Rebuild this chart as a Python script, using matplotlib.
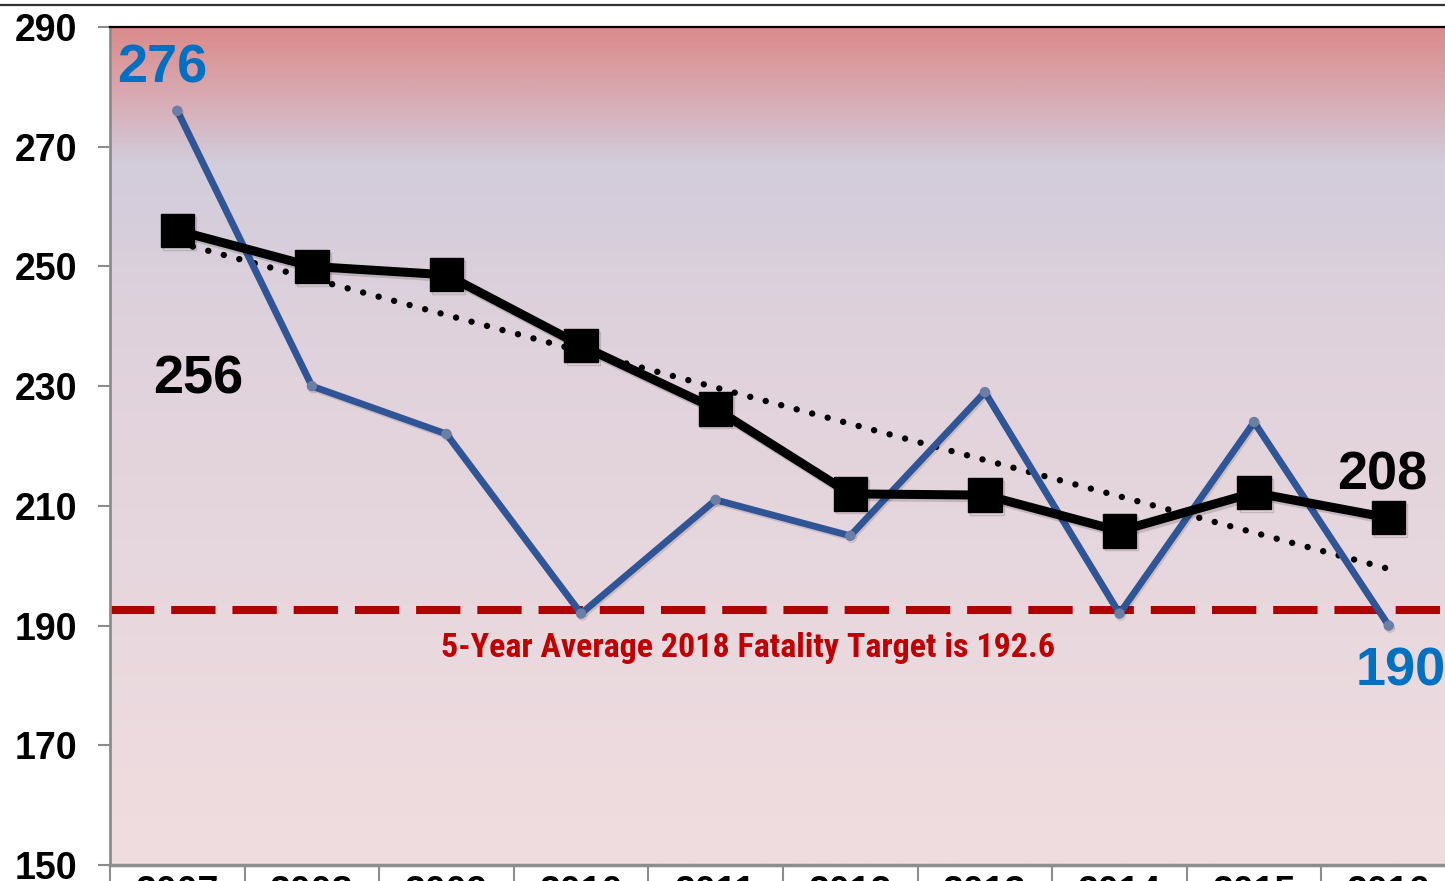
import numpy as np
import matplotlib
matplotlib.use("Agg")
import matplotlib.pyplot as plt
from matplotlib.colors import LinearSegmentedColormap
from matplotlib.lines import Line2D
from matplotlib.ticker import FixedLocator
from matplotlib import font_manager
import matplotlib.patheffects as pe

years = ["2007", "2008", "2009", "2010", "2011", "2012", "2013", "2014", "2015", "2016"]
fatalities = [276, 230, 222, 192, 211, 205, 229, 192, 224, 190]
five_year_avg = [256, 250, 248.6, 236.8, 226.2, 212, 211.8, 205.8, 212.2, 208]
target = 192.6
target_text = "5-Year Average 2018 Fatality Target is 192.6"
y_ticks = [150, 170, 190, 210, 230, 250, 270, 290]

available = {f.name for f in font_manager.fontManager.ttflist}
narrow = next((n for n in ["Liberation Sans Narrow", "Roboto Condensed", "Open Sans Condensed",
                           "DejaVu Sans Condensed"] if n in available), "Liberation Sans")

W, H = 1445, 881
fig = plt.figure(figsize=(W / 100, H / 100), dpi=100)
fig.patch.set_facecolor("white")

left_px, right_px, top_px, bot_px = 110, 1456, 27, 865
ax = fig.add_axes([left_px / W, (H - bot_px) / H, (right_px - left_px) / W, (bot_px - top_px) / H])

x = np.arange(len(years))
ax.set_xlim(-0.5, len(years) - 0.5)
ax.set_ylim(150, 290)

# background gradient
stops = [(0.0, (240, 221, 223)), (0.62, (224, 210, 220)), (0.84, (210, 204, 219)),
         (0.92, (216, 170, 178)), (1.0, (219, 140, 140))]
cmap = LinearSegmentedColormap.from_list("bg", [(p, tuple(c / 255 for c in col)) for p, col in stops])
grad = np.linspace(0, 1, 400).reshape(-1, 1)
ax.imshow(grad, cmap=cmap, aspect="auto", origin="lower",
          extent=[-0.5, len(years) - 0.5, 150, 290], zorder=0)

# target line
ax.axhline(target, color="#B00000", lw=5.8, dashes=(5.5, 2.1), zorder=2)

# trend line (Excel linear trendline of the 5-year average)
coef = np.polyfit(x, five_year_avg, 1)
ax.plot(x, np.polyval(coef, x), color="black", lw=4.6, linestyle=(0, (0.01, 2.5)),
        dash_capstyle="round", zorder=3)

# annual fatalities
ax.plot(x, fatalities, color="#2F5597", lw=4.9, marker="o", markersize=6.5,
        markerfacecolor="#6A7EA6", markeredgecolor="#6A7EA6", zorder=4,
        path_effects=[pe.SimpleLineShadow(offset=(1, -1.5), alpha=0.12), pe.Normal()])

# 5-year average
ax.plot(x, five_year_avg, color="black", lw=6.5, marker="s", markersize=24,
        markerfacecolor="black", markeredgecolor="black", solid_joinstyle="miter", zorder=5,
        path_effects=[pe.SimpleLineShadow(offset=(1.5, -2), alpha=0.15), pe.Normal()])

lab = dict(fontfamily="Liberation Sans", fontweight="bold", fontsize=39, ha="center", va="baseline", zorder=6)
ax.text(-0.11, 280.7, str(fatalities[0]), color="#0070C0", **lab)
ax.text(9.09, 180.0, str(fatalities[-1]), color="#0070C0", **lab)
ax.text(0.154, 228.8, str(five_year_avg[0]), color="black", **lab)
ax.text(8.95, 212.7, str(five_year_avg[-1]), color="black", **lab)

ax.text(4.24, 184.7, target_text, color="#C00000", fontsize=24.5 if narrow != "Liberation Sans" else 20.5,
        fontweight="bold", family=[narrow, "DejaVu Sans"], ha="center", va="baseline", zorder=6)

# axes styling
ax.set_yticks(y_ticks)
ax.set_yticklabels([str(v) for v in y_ticks])
ax.tick_params(axis="y", length=8.6, width=1.5, color="#8C8C8C", pad=15,
               labelsize=27)
for t in ax.get_yticklabels():
    t.set_fontfamily("Liberation Sans")
    t.set_fontweight("bold")

ax.set_xticks(x)
ax.set_xticklabels(years)
ax.tick_params(axis="x", which="major", length=0, pad=7, labelsize=27)
for t in ax.get_xticklabels():
    t.set_fontfamily("Liberation Sans")
    t.set_fontweight("bold")
ax.xaxis.set_minor_locator(FixedLocator(np.arange(-0.5, len(years), 1.0)))
ax.tick_params(axis="x", which="minor", length=12, width=1.5, color="#8C8C8C")

ax.spines["left"].set_color("#8C8C8C")
ax.spines["left"].set_linewidth(2)
ax.spines["bottom"].set_color("#8C8C8C")
ax.spines["bottom"].set_linewidth(2.5)
ax.spines["top"].set_color("black")
ax.spines["top"].set_linewidth(1.6)
ax.spines["right"].set_visible(False)

fig.add_artist(Line2D([0, 1], [1 - 5 / H, 1 - 5 / H], transform=fig.transFigure,
                      color="#333333", lw=1.6))

fig.savefig("out.png", dpi=100)
